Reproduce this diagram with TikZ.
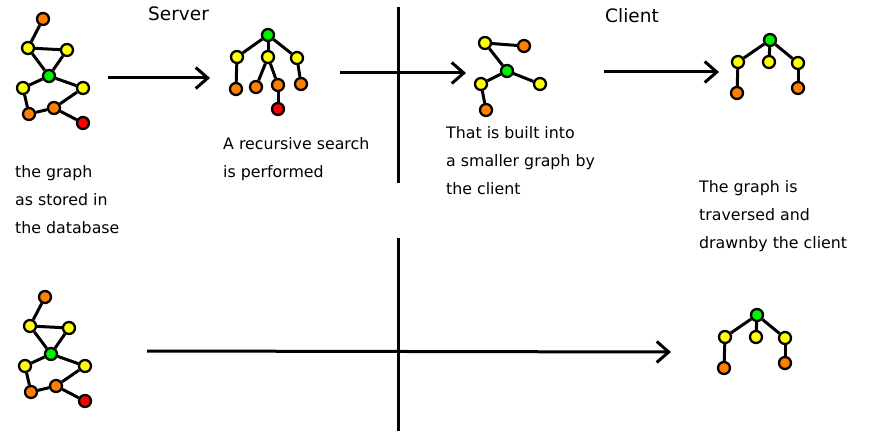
\documentclass[tikz,border=0pt]{standalone}
\usepackage{fontspec}
\setmainfont{DejaVu Sans}
\usetikzlibrary{arrows.meta, positioning, calc}
\definecolor{vorange}{HTML}{FF8000}
\definecolor{vyellow}{HTML}{FFFF00}
\definecolor{vgreen}{HTML}{00F000}
\definecolor{vred}{HTML}{FF0000}

\begin{document}
\begin{tikzpicture}[
  x=1pt, y=-1pt,
  vertex/.style={circle, draw=black, line width=2.3pt,
                 minimum size=12pt, inner sep=0pt},
  vo/.style={vertex, fill=vorange},
  vy/.style={vertex, fill=vyellow},
  vg/.style={vertex, fill=vgreen},
  vr/.style={vertex, fill=vred},
  link/.style={line width=3pt},
  divider/.style={line width=3pt},
  arrow/.style={-{Straight Barb[length=12pt,width=21pt]}, line width=3pt},
  caption/.style={anchor=base west, inner sep=0pt, align=left,
                  font=\fontsize{15.8}{28}\selectfont},
  heading/.style={anchor=base west, inner sep=0pt,
                  font=\fontsize{18.5}{22}\selectfont}
]
\useasboundingbox (0,0) rectangle (869,441);

%% ── Graph as stored in the database (top and bottom copy) ───
\foreach \g/\dx/\dy in {top/0/0, low/2/278} {
  \begin{scope}[shift={(\dx,\dy)}]
    \node[vo] (\g o1) at (43,19)  {};
    \node[vy] (\g y1) at (28,48)  {};
    \node[vy] (\g y2) at (67,50)  {};
    \node[vg] (\g g)  at (49,76)  {};
    \node[vy] (\g y3) at (23,88)  {};
    \node[vy] (\g y4) at (83,88)  {};
    \node[vo] (\g o2) at (29,114) {};
    \node[vo] (\g o3) at (54,108) {};
    \node[vr] (\g r)  at (83,123) {};
    \draw[link] (\g o1) -- (\g y1);
    \draw[link] (\g y1) -- (\g y2);
    \draw[link] (\g y1) -- (\g g);
    \draw[link] (\g y2) -- (\g g);
    \draw[link] (\g g)  -- (\g y3);
    \draw[link] (\g g)  -- (\g y4);
    \draw[link] (\g y3) -- (\g o2);
    \draw[link] (\g o2) -- (\g o3);
    \draw[link] (\g o3) -- (\g y4);
    \draw[link] (\g o3) -- (\g r);
  \end{scope}
}

%% ── Recursive search tree ───────────────────────────────────
\node[vg] (sg)  at (268,35)  {};
\node[vy] (sy1) at (237,57)  {};
\node[vy] (sy2) at (268,57)  {};
\node[vy] (sy3) at (297,58)  {};
\node[vo] (so1) at (236,89)  {};
\node[vo] (so2) at (256,87)  {};
\node[vo] (so3) at (278,85)  {};
\node[vo] (so4) at (301,84)  {};
\node[vr] (sr)  at (278,109) {};
\draw[link] (sg)  -- (sy1);
\draw[link] (sg)  -- (sy2);
\draw[link] (sg)  -- (sy3);
\draw[link] (sy1) -- (so1);
\draw[link] (sy2) -- (so2);
\draw[link] (sy2) -- (so3);
\draw[link] (sy3) -- (so4);
\draw[link] (so3) -- (sr);

%% ── Smaller graph built by the client ───────────────────────
\node[vy] (cy1) at (485,43)  {};
\node[vo] (co1) at (524,46)  {};
\node[vg] (cg)  at (507,71)  {};
\node[vy] (cy2) at (481,84)  {};
\node[vy] (cy3) at (540,84)  {};
\node[vo] (co2) at (486,110) {};
\draw[link] (cy1) -- (co1);
\draw[link] (cy1) -- (cg);
\draw[link] (cg)  -- (cy2);
\draw[link] (cg)  -- (cy3);
\draw[link] (cy2) -- (co2);

%% ── Traversed tree drawn by the client (top and bottom) ─────
\foreach \t/\dx/\dy in {tt/0/0, bt/-13/275} {
  \begin{scope}[shift={(\dx,\dy)}]
    \node[vg] (\t g)  at (770,40) {};
    \node[vy] (\t y1) at (738,62) {};
    \node[vy] (\t y2) at (769,62) {};
    \node[vy] (\t y3) at (798,63) {};
    \node[vo] (\t o1) at (737,93) {};
    \node[vo] (\t o2) at (798,88) {};
    \draw[link] (\t g)  -- (\t y1);
    \draw[link] (\t g)  -- (\t y2);
    \draw[link] (\t g)  -- (\t y3);
    \draw[link] (\t y1) -- (\t o1);
    \draw[link] (\t y3) -- (\t o2);
  \end{scope}
}

%% ── Arrows and dividers ─────────────────────────────────────
\coordinate (a1s) at (108,78);  \coordinate (a1e) at (210,78);
\coordinate (a2s) at (340,73);  \coordinate (a2e) at (466,73);
\coordinate (a3s) at (604,72);  \coordinate (a3e) at (719,72);
\coordinate (a4s) at (147,351); \coordinate (a4e) at (671,352);
\draw[arrow] (a1s) -- (a1e);
\draw[arrow] (a2s) -- (a2e);
\draw[arrow] (a3s) -- (a3e);
\draw[arrow] (a4s) -- (a4e);

\coordinate (d1t) at (398,7);   \coordinate (d1b) at (398,183);
\coordinate (d2t) at (398,238); \coordinate (d2b) at (398,431);
\draw[divider] (d1t) -- (d1b);
\draw[divider] (d2t) -- (d2b);

%% ── Headings and captions (anchored at the last line) ───────
\node[heading] (server) at (148,21) {Server};
\node[heading] (client) at (605,23) {Client};

\node[caption] (stored)  at (15,233)
      {the graph\\as stored in\\the database};
\node[caption] (search)  at (223,177)
      {A recursive search\\is performed};
\node[caption] (built)   at (446,194)
      {That is built into\\a smaller graph by\\the client};
\node[caption] (drawn)   at (699,248)
      {The graph is\\traversed and\\drawnby the client};

\end{tikzpicture}
\end{document}
